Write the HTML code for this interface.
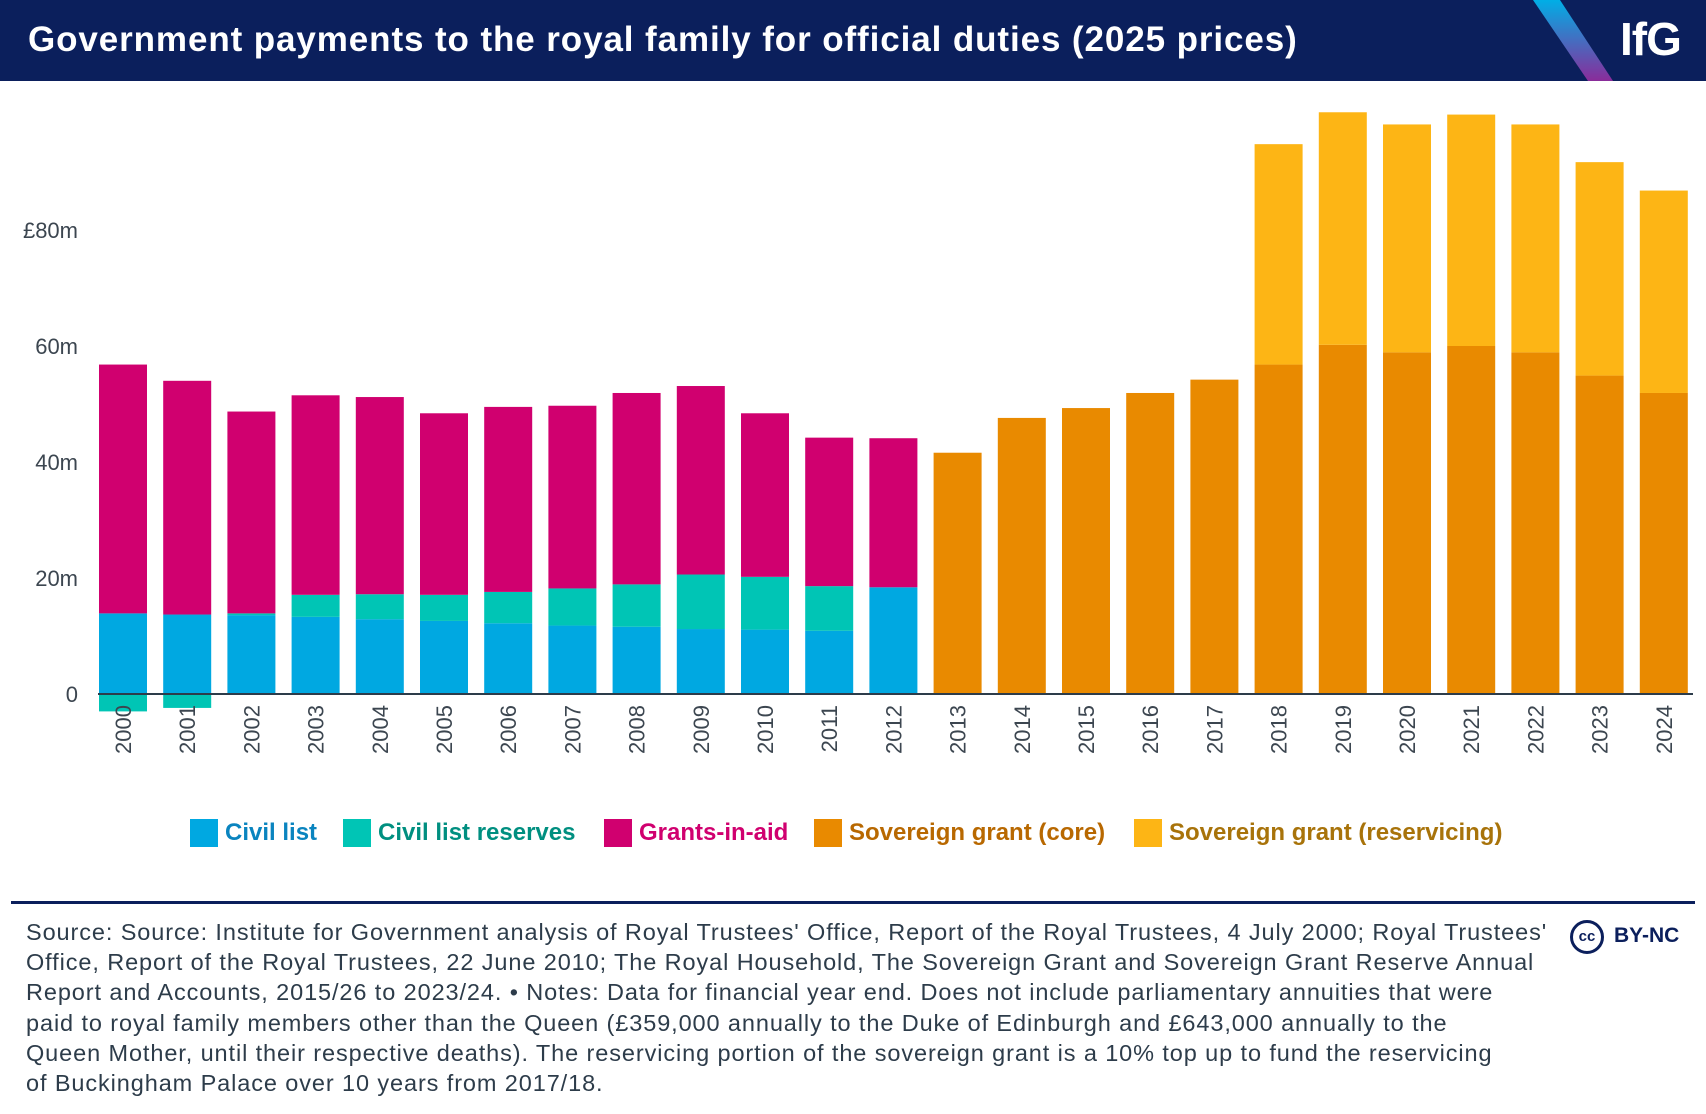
<!DOCTYPE html>
<html><head><meta charset="utf-8"><style>
body{margin:0;width:1706px;height:1114px;background:#fff;font-family:"Liberation Sans",sans-serif;overflow:hidden;position:relative}
#hdr{position:absolute;left:0;top:0;width:1706px;height:81px;background:#0b1f5c;overflow:hidden}
#title{position:absolute;left:28px;top:20px;color:#fff;font-weight:bold;font-size:35px;letter-spacing:0.9px}
#logo{position:absolute;left:1620px;top:12px;color:#fff;font-weight:bold;font-size:46px;letter-spacing:-1px}
.leg{position:absolute;top:819px;height:28px;display:flex;align-items:center;font-weight:bold;font-size:24px}
.leg span.sw{display:inline-block;width:28px;height:28px;margin-right:7px}
#sep{position:absolute;left:11px;top:901px;width:1684px;height:3px;background:#0b1f5c}
#foot{position:absolute;left:26px;top:917px;width:1560px;font-size:23.5px;letter-spacing:0.9px;line-height:30.2px;color:#2d3c4a;white-space:nowrap}
#cc{position:absolute;left:1570px;top:920px;width:34px;height:34px;border:3px solid #0b1f5c;border-radius:50%;box-sizing:border-box;font-weight:bold;font-size:15px;color:#0b1f5c;text-align:center;line-height:28px}
#bync{position:absolute;left:1614px;top:924px;font-weight:bold;font-size:21px;color:#0b1f5c}
</style></head><body>
<div id="hdr">
<div id="title">Government payments to the royal family for official duties (2025 prices)</div>
<svg width="1706" height="81" style="position:absolute;left:0;top:0">
<defs><linearGradient id="g" x1="0" y1="0" x2="0" y2="1"><stop offset="0" stop-color="#00aee6"/><stop offset="1" stop-color="#8a2c9a"/></linearGradient></defs>
<polygon points="1533,0 1560,0 1613,81 1588,81" fill="url(#g)"/></svg>
<div id="logo">IfG</div>
</div>
<svg id="chart" width="1706" height="800" style="position:absolute;left:0;top:0"></svg>
<div class="leg" style="left:190px;color:#0a84bf"><span class="sw" style="background:#00a8e1"></span>Civil list</div>
<div class="leg" style="left:343px;color:#008f80"><span class="sw" style="background:#00c5b5"></span>Civil list reserves</div>
<div class="leg" style="left:604px;color:#d0006f"><span class="sw" style="background:#d0006f"></span>Grants-in-aid</div>
<div class="leg" style="left:814px;color:#b86800"><span class="sw" style="background:#e98a00"></span>Sovereign grant (core)</div>
<div class="leg" style="left:1134px;color:#a8730a"><span class="sw" style="background:#fdb515"></span>Sovereign grant (reservicing)</div>
<div id="sep"></div>
<div id="foot">Source: Source: Institute for Government analysis of Royal Trustees' Office, Report of the Royal Trustees, 4 July 2000; Royal Trustees'<br>Office, Report of the Royal Trustees, 22 June 2010; The Royal Household, The Sovereign Grant and Sovereign Grant Reserve Annual<br>Report and Accounts, 2015/26 to 2023/24. • Notes: Data for financial year end. Does not include parliamentary annuities that were<br>paid to royal family members other than the Queen (£359,000 annually to the Duke of Edinburgh and £643,000 annually to the<br>Queen Mother, until their respective deaths). The reservicing portion of the sovereign grant is a 10% top up to fund the reservicing<br>of Buckingham Palace over 10 years from 2017/18.</div>
<div id="cc">cc</div>
<div id="bync">BY-NC</div>
<script>
const years=[2000,2001,2002,2003,2004,2005,2006,2007,2008,2009,2010,2011,2012,2013,2014,2015,2016,2017,2018,2019,2020,2021,2022,2023,2024];
const civilList=[13.9,13.7,13.6,13.3,12.9,12.6,12.2,11.8,11.6,11.2,11.1,10.9,18.4,0,0,0,0,0,0,0,0,0,0,0,0];
const civilReserves=[-3.0,-2.4,0.3,3.8,4.3,4.5,5.4,6.4,7.3,9.4,9.1,7.7,0,0,0,0,0,0,0,0,0,0,0,0,0];
const grantsInAid=[42.9,40.3,34.8,34.4,34.0,31.3,31.9,31.5,33.0,32.5,28.2,25.6,25.7,0,0,0,0,0,0,0,0,0,0,0,0];
const sovCore=[0,0,0,0,0,0,0,0,0,0,0,0,0,41.6,47.6,49.3,51.9,54.2,56.8,60.2,58.9,60.0,58.9,54.9,51.9];
const sovReserv=[0,0,0,0,0,0,0,0,0,0,0,0,0,0,0,0,0,0,38.0,40.1,39.3,39.9,39.3,36.8,34.9];
const yTicks=[0,20,40,60,80];
const yTickLabels=["0","20m","40m","60m","£80m"];
const svg=document.getElementById('chart');const NS='http://www.w3.org/2000/svg';
const y0=694,pxPer=5.8;function y(v){return y0-v*pxPer;}
const x0=99,step=64.2,bw=48;function x(i){return x0+i*step;}
function el(t,a){const e=document.createElementNS(NS,t);for(const k in a)e.setAttribute(k,a[k]);svg.appendChild(e);return e;}
yTicks.forEach((t,i)=>{const e=el('text',{x:78,y:y(t)+8,'text-anchor':'end','font-size':'22','fill':'#3c4650'});e.textContent=yTickLabels[i];

});
const series=[[civilList,'#00a8e1','civil-list'],[civilReserves,'#00c5b5','civil-list-reserves'],[grantsInAid,'#d0006f','grants-in-aid'],[sovCore,'#e98a00','sovereign-core'],[sovReserv,'#fdb515','sovereign-reservicing']];
years.forEach((yr,i)=>{let pos=0,neg=0;
series.forEach(([arr,c,n])=>{const v=arr[i];if(!v)return;let a,b;
if(v>0){a=pos;b=pos+v;pos=b;}else{a=neg+v;b=neg;neg=a;}
const r=el('rect',{x:x(i),y:y(b),width:bw,height:(b-a)*pxPer,fill:c});

});
const cx=x(i)+bw/2;const t=el('text',{x:0,y:0,'text-anchor':'end','font-size':'22','fill':'#3c4650',transform:'translate('+(cx+8)+',705) rotate(-90)'});t.textContent=yr;

});
const ax=el('line',{x1:98,x2:1693,y1:y0,y2:y0,stroke:'#2d3c4a','stroke-width':2});


</script>
</body></html>
